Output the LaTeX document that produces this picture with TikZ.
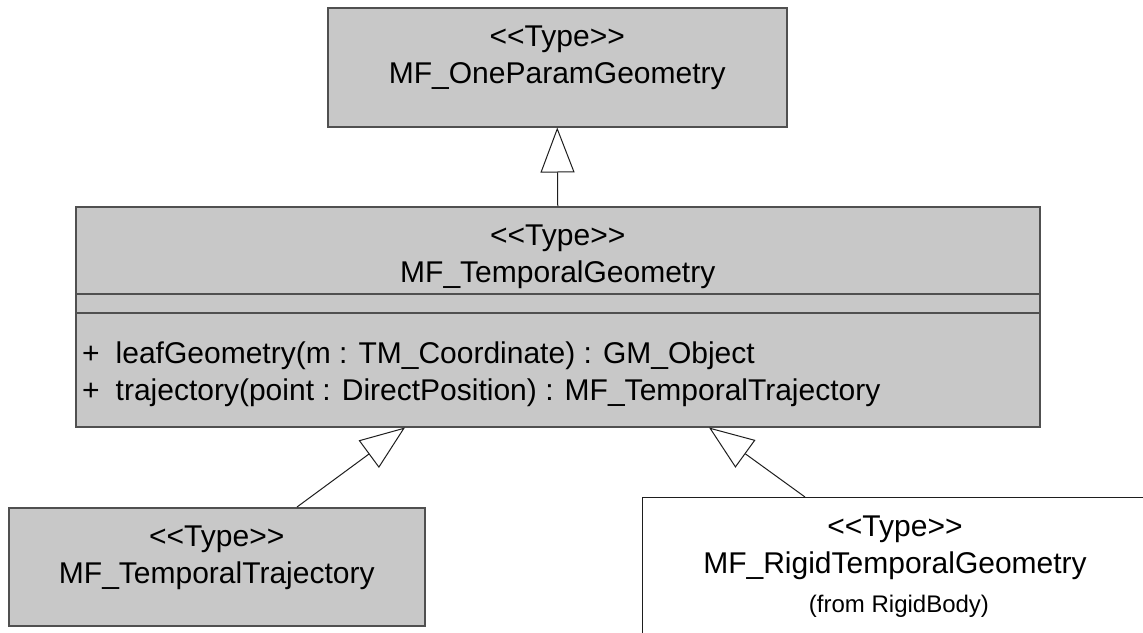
\documentclass[tikz,border=0pt]{standalone}
\usepackage{fontspec}
\setmainfont{Liberation Sans}
\usetikzlibrary{arrows.meta,calc}
\definecolor{boxfill}{RGB}{200,200,200}
\definecolor{boxline}{RGB}{80,80,80}
\definecolor{lineclr}{RGB}{30,30,30}
\begin{document}
\begin{tikzpicture}[x=1pt,y=-1pt,
  umlbox/.style={draw=boxline, line width=1.5pt, fill=boxfill, anchor=north west, inner sep=0pt},
  whitebox/.style={draw=lineclr, line width=1.2pt, fill=white, anchor=north west, inner sep=0pt},
  sep/.style={draw=boxline, line width=1.5pt},
  lbl/.style={anchor=base, inner sep=0pt, font=\fontsize{30}{36}\selectfont},
  meth/.style={anchor=base west, inner sep=0pt, font=\fontsize{30}{36}\selectfont},
  gen/.style={draw=lineclr, line width=1pt, -{Triangle[open, length=45pt, width=34pt, line width=1pt, fill=white]}}]
\clip (0,0) rectangle (1143,632);
\fill[white] (0,0) rectangle (1143,632);
% boxes
\node[umlbox, minimum width=459pt, minimum height=119pt] (top) at (327,7) {};
\node[umlbox, minimum width=964pt, minimum height=220pt] (mid) at (75,206) {};
\node[umlbox, minimum width=416pt, minimum height=118pt] (bl) at (8,507) {};
\node[whitebox, minimum width=520pt, minimum height=160pt] (rb) at (642,497) {};
% compartments of the middle box
\draw[sep] ($(mid.north west)+(0,88)$) -- ($(mid.north east)+(0,88)$);
\draw[sep] ($(mid.north west)+(0,107)$) -- ($(mid.north east)+(0,107)$);
% texts
\node[lbl] (topst) at ($(top.north)+(0,39.5)$) {<{}<Type>{}>};
\node[lbl] (topnm) at ($(top.north)+(0,76.5)$) {MF\_OneParamGeometry};
\node[lbl] (midst) at ($(mid.north)+(0,39.5)$) {<{}<Type>{}>};
\node[lbl] (midnm) at ($(mid.north)+(0,76.5)$) {MF\_TemporalGeometry};
\node[meth] (m1) at ($(mid.north west)+(7,157)$) {+\hspace{16pt}leafGeometry(m : TM\_Coordinate) : GM\_Object};
\node[meth] (m2) at ($(mid.north west)+(7,194)$) {+\hspace{16pt}trajectory(point : DirectPosition) : MF\_TemporalTrajectory};
\node[lbl] (blst) at ($(bl.north)+(0,39.5)$) {<{}<Type>{}>};
\node[lbl] (blnm) at ($(bl.north)+(0,76.5)$) {MF\_TemporalTrajectory};
\node[lbl] (rbst) at ($(rb.north west)+(253,39.5)$) {<{}<Type>{}>};
\node[lbl] (rbnm) at ($(rb.north west)+(253,76.5)$) {MF\_RigidTemporalGeometry};
\node[anchor=base, inner sep=0pt, font=\fontsize{24}{28}\selectfont] (rbfrom) at ($(rb.north west)+(257,115)$) {(from RigidBody)};
% generalisations
\coordinate (blanchor) at ($(bl.north west)+(289,0)$);
\coordinate (midl) at ($(mid.south west)+(330,0)$);
\coordinate (rbanchor) at ($(rb.north west)+(163,0)$);
\coordinate (midr) at ($(mid.south west)+(634,0)$);
\draw[gen] (mid.north) -- (top.south);
\draw[gen] (blanchor) -- (midl);
\draw[gen] (rbanchor) -- (midr);
\end{tikzpicture}
\end{document}
